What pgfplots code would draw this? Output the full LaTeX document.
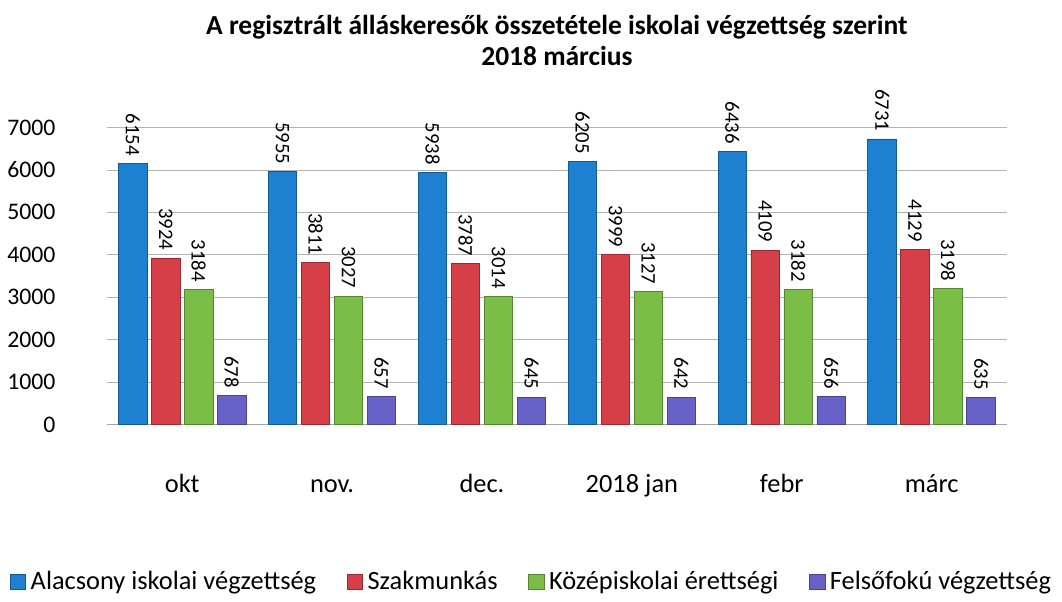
\documentclass[border=0pt]{standalone}
\usepackage{pgfplots}
\pgfplotsset{compat=1.18}
\usepackage{fontspec}
\setmainfont{Carlito}
\definecolor{cA}{RGB}{30,128,208}
\definecolor{cB}{RGB}{214,62,72}
\definecolor{cC}{RGB}{122,190,72}
\definecolor{cD}{RGB}{104,98,200}
\begin{document}
\begin{tikzpicture}
\begin{axis}[
  scale only axis,
  width=409pt, height=135pt,
  ymin=0, ymax=7000, ytick={0,1000,...,7000},
  xmin=-0.5, xmax=5.5,
  xtick=data, xticklabels={okt,nov.,dec.,2018 jan,febr,márc},
  ybar, bar width=13pt,
  axis x line*=bottom, axis y line*=left,
  y axis line style={draw=none},
  x axis line style={draw=gray!70},
  ymajorgrids, grid style={gray!60},
  major tick length=0pt,
  yticklabel style={font=\fontsize{10.8}{12}\selectfont, xshift=-20pt},
  xticklabel style={font=\fontsize{12}{13}\selectfont, text depth=0pt, anchor=base, yshift=-31pt},
  /pgf/number format/assume math mode=true,
  /pgf/number format/1000 sep={},
  title={\textbf{A regisztrált álláskeresők összetétele iskolai végzettség szerint}\\\textbf{2018 március}},
  title style={align=center, font=\fontsize{12.5}{14}\selectfont, at={(0.5,1)}, anchor=south, inner sep=0pt, yshift=22pt},
  nodes near coords,
  nodes near coords style={rotate=-90, anchor=east, font=\fontsize{9.4}{10}\selectfont, /pgf/number format/assume math mode=true},
  legend style={at={(0.5,-0.53)}, anchor=center, xshift=-11pt, draw=none, legend columns=4, font=\fontsize{12}{13}\selectfont, /tikz/every even column/.append style={column sep=12pt}},
  legend image code/.code={\fill[#1] (0pt,-3.5pt) rectangle (7pt,3.5pt);},
  clip=false,
]
\addplot[fill=cA, draw=cA!70!black] coordinates {(0,6154) (1,5955) (2,5938) (3,6205) (4,6436) (5,6731)};
\addplot[fill=cB, draw=cB!70!black] coordinates {(0,3924) (1,3811) (2,3787) (3,3999) (4,4109) (5,4129)};
\addplot[fill=cC, draw=cC!70!black] coordinates {(0,3184) (1,3027) (2,3014) (3,3127) (4,3182) (5,3198)};
\addplot[fill=cD, draw=cD!70!black] coordinates {(0,678) (1,657) (2,645) (3,642) (4,656) (5,635)};
\legend{Alacsony iskolai végzettség, Szakmunkás, Középiskolai érettségi, Felsőfokú végzettség}
\end{axis}
\path (current axis.north) ++(0,58pt);
\end{tikzpicture}
\end{document}
